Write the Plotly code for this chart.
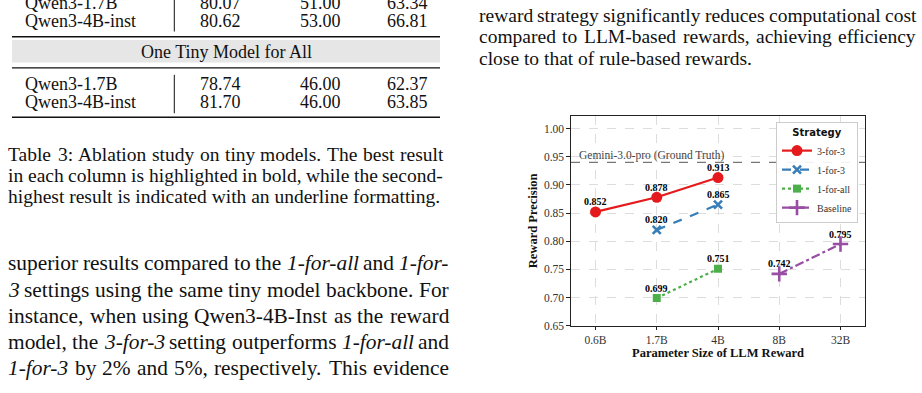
import re
import plotly.graph_objects as go

W, H = 922, 393

# ---------------- chart data ----------------
sizes = ["0.6B", "1.7B", "4B", "8B", "32B"]
s33_x = ["0.6B", "1.7B", "4B"]
s33_y = [0.852, 0.878, 0.913]
s13_x = ["1.7B", "4B"]
s13_y = [0.820, 0.865]
s1all_x = ["1.7B", "4B"]
s1all_y = [0.699, 0.751]
base_x = ["8B", "32B"]
base_y = [0.742, 0.795]
gemini_y = 0.94
gemini_label = "Gemini-3.0-pro (Ground Truth)"
y_ticks = [0.65, 0.70, 0.75, 0.80, 0.85, 0.90, 0.95, 1.00]

# ---------------- surrounding page content ----------------
table_models = ["Qwen3-1.7B", "Qwen3-4B-inst"]
table_upper = [["80.07", "51.00", "63.34"], ["80.62", "53.00", "66.81"]]
table_lower = [["78.74", "46.00", "62.37"], ["81.70", "46.00", "63.85"]]
table_band = "One Tiny Model for All"
caption_lines = [
    "Table 3: Ablation study on tiny models. The best result",
    "in each column is highlighted in bold, while the second-",
    "highest result is indicated with an underline formatting.",
]
left_body = [
    "superior results compared to the <i>1-for-all</i> and <i>1-for-</i>",
    "<i>3</i> settings using the same tiny model backbone. For",
    "instance, when using Qwen3-4B-Inst as the reward",
    "model, the <i>3-for-3</i> setting outperforms <i>1-for-all</i> and",
    "<i>1-for-3</i> by 2% and 5%, respectively. This evidence",
]
right_body = [
    "reward strategy significantly reduces computational cost",
    "compared to LLM-based rewards, achieving efficiency",
    "close to that of rule-based rewards.",
]

SERIF = "Liberation Serif"

# Times (Liberation Serif) advance widths, 1/1000 em
TW = {" ": 250, "a": 444, "b": 500, "c": 444, "d": 500, "e": 444, "f": 333,
      "g": 500, "h": 500, "i": 278, "j": 278, "k": 500, "l": 278, "m": 778,
      "n": 500, "o": 500, "p": 500, "q": 500, "r": 333, "s": 389, "t": 278,
      "u": 500, "v": 500, "w": 722, "x": 500, "y": 500, "z": 444,
      "A": 722, "B": 667, "C": 667, "D": 722, "E": 611, "F": 556, "G": 722,
      "H": 722, "I": 333, "J": 389, "K": 722, "L": 611, "M": 889, "N": 722,
      "O": 722, "P": 556, "Q": 722, "R": 667, "S": 556, "T": 611, "U": 722,
      "V": 722, "W": 944, "X": 722, "Y": 722, "Z": 611, ".": 250, ",": 250,
      "-": 333, "%": 833, ":": 278, "(": 333, ")": 333}


def px(x):
    return x / W


def py(y):
    return 1 - y / H


def tw(s, size):
    s = re.sub(r"<[^>]+>", "", s)
    return sum(TW.get(c, 500) for c in s) * size / 1000.0


def line_annos(txt, x0, x1, yy, font, justify):
    out = []
    if not justify:
        out.append(dict(xref="paper", yref="paper", x=px(x0), y=py(yy),
                        xanchor="left", yanchor="middle", text=txt,
                        showarrow=False, font=font, borderpad=0))
        return out
    words = txt.split(" ")
    widths = [tw(w, font["size"]) for w in words]
    gap = (x1 - x0 - sum(widths)) / max(len(words) - 1, 1)
    x = x0
    for w, wd in zip(words, widths):
        out.append(dict(xref="paper", yref="paper", x=px(x), y=py(yy),
                        xanchor="left", yanchor="middle", text=w,
                        showarrow=False, font=font, borderpad=0))
        x += wd + gap
    return out


series = [
    ("3-for-3", s33_x, s33_y, "#e41a1c", "solid", "circle", 11),
    ("1-for-3", s13_x, s13_y, "#377eb8", "dash", "x-thin", 8),
    ("1-for-all", s1all_x, s1all_y, "#4daf4a", "dot", "square", 8),
    ("Baseline", base_x, base_y, "#984ea3", "dashdot", "cross-thin", 11),
]

fig = go.Figure()
annos = []
for name, xs, ys, col, dash, sym, msz in series:
    mk = dict(symbol=sym, size=msz, color=col)
    if sym.endswith("-thin"):
        mk["line"] = dict(color=col, width=2.6)
    fig.add_trace(go.Scatter(
        x=xs, y=ys, name=name, mode="lines+markers",
        line=dict(color=col, width=2.2, dash=dash), marker=mk))
    for xv, yv in zip(xs, ys):
        annos.append(dict(x=xv, y=yv, xref="x", yref="y", yshift=10,
                          text="<b>%.3f</b>" % yv, showarrow=False,
                          xanchor="center", yanchor="middle",
                          font=dict(family=SERIF, size=10, color="black")))

fig.add_shape(type="line", xref="x domain", x0=0, x1=1, yref="y",
              y0=gemini_y, y1=gemini_y,
              line=dict(color="#777777", width=1.4, dash="dash"))
annos.append(dict(xref="x domain", x=0.02, yref="y", y=gemini_y,
                  xanchor="left", yanchor="middle", yshift=7,
                  text=gemini_label, showarrow=False,
                  font=dict(family=SERIF, size=11.5, color="#444444")))

# page text
cap_font = dict(family=SERIF, size=19.5, color="#111111")
body_font = dict(family=SERIF, size=21.4, color="#111111")
table_font = dict(family=SERIF, size=18, color="#111111")
for i, (txt, yy) in enumerate(zip(caption_lines, [156.5, 178, 199.5])):
    annos += line_annos(txt, 7, 442, yy, cap_font, i < 2)
for txt, yy in zip(left_body, [267.5, 294, 320.5, 347, 373.5]):
    annos += line_annos(txt, 7, 448, yy, body_font, True)
for i, (txt, yy) in enumerate(zip(right_body, [16, 37.5, 59])):
    annos += line_annos(txt, 478, 915, yy, cap_font, i < 2)

# table
col_x = [220, 320, 407]
for rows, ys in [(table_upper, [3, 21.7]), (table_lower, [85, 104])]:
    for name, vals, yy in zip(table_models, rows, ys):
        annos.append(dict(xref="paper", yref="paper", x=px(24), y=py(yy),
                          xanchor="left", yanchor="middle", text=name,
                          showarrow=False, font=table_font, borderpad=0))
        for v, cx in zip(vals, col_x):
            annos.append(dict(xref="paper", yref="paper", x=px(cx), y=py(yy),
                              xanchor="center", yanchor="middle", text=v,
                              showarrow=False, font=table_font, borderpad=0))
annos.append(dict(xref="paper", yref="paper", x=px(226), y=py(52.5),
                  xanchor="center", yanchor="middle", text=table_band,
                  showarrow=False, font=table_font, borderpad=0))

shapes = [
    dict(type="rect", xref="paper", yref="paper", x0=px(12), x1=px(440),
         y0=py(63.5), y1=py(40.5), fillcolor="#e6e6e6", line=dict(width=0),
         layer="below"),
    dict(type="line", xref="paper", yref="paper", x0=px(12), x1=px(440),
         y0=py(37.3), y1=py(37.3), line=dict(color="#111", width=1.3)),
    dict(type="line", xref="paper", yref="paper", x0=px(12), x1=px(440),
         y0=py(69), y1=py(69), line=dict(color="#111", width=1.3)),
    dict(type="line", xref="paper", yref="paper", x0=px(12), x1=px(440),
         y0=py(119), y1=py(119), line=dict(color="#111", width=1.6)),
    dict(type="line", xref="paper", yref="paper", x0=px(174.3), x1=px(174.3),
         y0=py(0), y1=py(32), line=dict(color="#111", width=1)),
    dict(type="line", xref="paper", yref="paper", x0=px(174.3), x1=px(174.3),
         y0=py(76), y1=py(115), line=dict(color="#111", width=1)),
]
for s in shapes:
    fig.add_shape(**s)

axis_common = dict(
    showline=True, linecolor="#222222", linewidth=1.2, mirror=True,
    ticks="outside", ticklen=3.5, tickwidth=1, tickcolor="#222222",
    showgrid=True, gridcolor="#dddddd", gridwidth=0.8, griddash="dash",
    zeroline=False,
    tickfont=dict(family=SERIF, size=11.5, color="#333333"),
)

fig.update_layout(
    width=W, height=H, autosize=False,
    margin=dict(l=0, r=0, t=0, b=0),
    paper_bgcolor="white", plot_bgcolor="white",
    font=dict(family=SERIF),
    annotations=annos,
    xaxis=dict(
        domain=[px(571), px(865)], type="category",
        categoryorder="array", categoryarray=sizes,
        range=[-0.4, 4.4],
        title=dict(text="<b>Parameter Size of LLM Reward</b>", standoff=3,
                   font=dict(family=SERIF, size=12.5, color="#111111")),
        **axis_common),
    yaxis=dict(
        domain=[py(330.7), py(118)], range=[0.65, 1.022],
        tickvals=y_ticks, tickformat=".2f",
        title=dict(text="<b>Reward Precision</b>", standoff=3,
                   font=dict(family=SERIF, size=12.5, color="#111111")),
        **axis_common),
    legend=dict(
        x=px(776), y=py(124), xanchor="left", yanchor="top",
        bgcolor="rgba(255,255,255,0.9)", bordercolor="#cccccc", borderwidth=1,
        font=dict(family=SERIF, size=10, color="#333333"),
        title=dict(text="<b>Strategy</b>", side="top center",
                   font=dict(family="DejaVu Sans", size=10, color="#111111")),
        itemwidth=30, tracegroupgap=0,
    ),
    showlegend=True,
)

fig.write_html("out.html")
